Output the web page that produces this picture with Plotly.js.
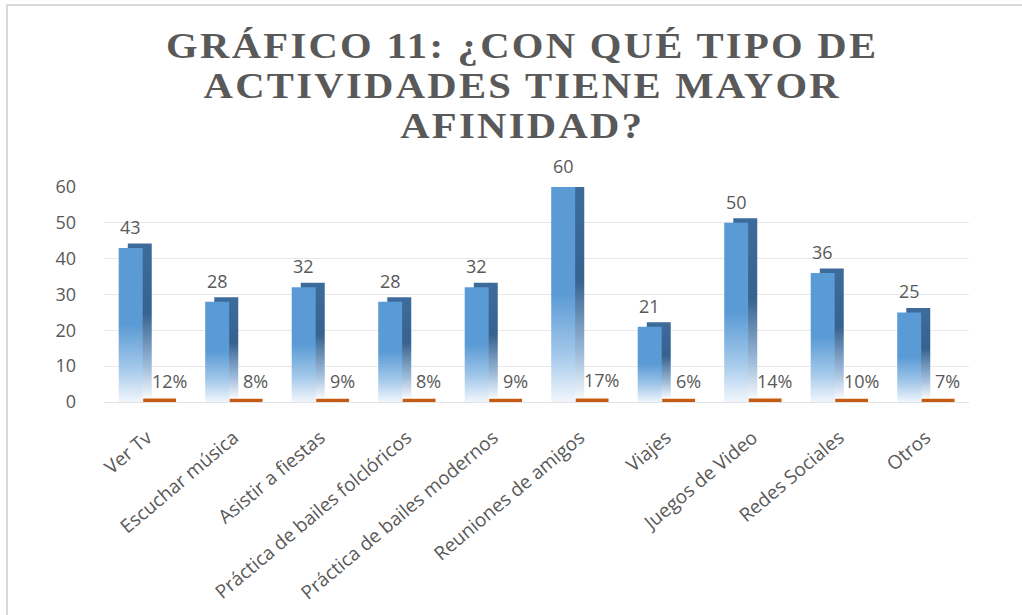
<!DOCTYPE html>
<html><head><meta charset="utf-8">
<script src="https://cdn.plot.ly/plotly-3.0.1.min.js"></script>
<style>
html,body{margin:0;padding:0;background:#fff;}
#chart{width:1022px;height:615px;}
#frame{position:absolute;left:6px;top:4px;width:1016px;height:611px;border-left:2px solid #d9d9d9;border-top:2px solid #d9d9d9;pointer-events:none;}
</style></head><body>
<div id="chart"></div><div id="frame"></div>
<script>
const categories = ["Ver Tv","Escuchar música","Asistir a fiestas","Práctica de bailes folclóricos","Práctica de bailes modernos","Reuniones de amigos","Viajes","Juegos de Video","Redes Sociales","Otros"];
const counts = [43,28,32,28,32,60,21,50,36,25];
const shares = [0.12,0.08,0.09,0.08,0.09,0.17,0.06,0.14,0.10,0.07];
const yTicks = [0,10,20,30,40,50,60];
const titleLines = ["GRÁFICO 11: ¿CON QUÉ TIPO DE","ACTIVIDADES TIENE MAYOR","AFINIDAD?"];

const txtColor = '#595959';
const font = 'Open Sans, sans-serif';

const sideTrace = {type:'bar', x:categories, y:counts, base:1.25, offset:-0.225, width:0.277,
  marker:{color:'#3a6898', line:{width:0}}, hoverinfo:'skip', showlegend:false};
const frontTrace = {type:'bar', x:categories, y:counts, offset:-0.33, width:0.277,
  marker:{color:'#5b9bd5', line:{width:0}}, hoverinfo:'skip', showlegend:false};
const shareTrace = {type:'bar', x:categories, y:shares, offset:-0.012, width:0.31, cliponaxis:false,
  marker:{color:'#c55a11', line:{width:6, color:'#c55a11'}}, hoverinfo:'skip', showlegend:false};

const annotations = [];
categories.forEach((c,i)=>{
  annotations.push({x:c, y:counts[i], xref:'x', yref:'y', text:String(counts[i]), showarrow:false,
    xshift:-16.5, yshift:21, yanchor:'middle', font:{family:font, size:18, color:txtColor}});
  annotations.push({x:c, y:shares[i], xref:'x', yref:'y', text:Math.round(shares[i]*100)+'%', showarrow:false,
    xshift:22, yshift:21, yanchor:'middle', font:{family:font, size:18, color:txtColor}});
});

const layout = {
  width:1022, height:615,
  margin:{l:104, r:53, t:187, b:213},
  paper_bgcolor:'#ffffff', plot_bgcolor:'#ffffff',
  barmode:'overlay',
  showlegend:false,
  hovermode:false,
  title:{text: titleLines.map(t=>'<span style="letter-spacing:2px">'+t+'</span>').join('<br>'),
    x:0.511, xref:'container', xanchor:'center', y:0.95, yref:'container', yanchor:'top',
    font:{family:'Liberation Serif, Times New Roman, serif', size:36, color:txtColor, weight:'bold'}},
  xaxis:{type:'category', tickangle:-40, ticks:'', showgrid:false, showline:false, zeroline:false,
    tickfont:{family:font, size:19, color:txtColor}, ticklabelstandoff:20, automargin:false},
  yaxis:{range:[0,60], tickvals:yTicks, ticks:'', showline:false, zeroline:true, zerolinecolor:'#e3e3e3', zerolinewidth:1,
    gridcolor:'#e8e8e8', gridwidth:1, tickfont:{family:font, size:18, color:txtColor}, ticklabelstandoff:27, automargin:false},
  annotations:annotations
};

Plotly.newPlot('chart',[sideTrace, frontTrace, shareTrace], layout, {displayModeBar:false, staticPlot:true}).then(gd=>{
  const NS='http://www.w3.org/2000/svg';
  const svg = gd.querySelector('svg.main-svg');
  let defs = svg.querySelector('defs');
  if(!defs){defs=document.createElementNS(NS,'defs'); svg.insertBefore(defs, svg.firstChild);}
  function grad(id, stops){
    const g=document.createElementNS(NS,'linearGradient');
    g.setAttribute('id',id); g.setAttribute('x1','0'); g.setAttribute('y1','0'); g.setAttribute('x2','0'); g.setAttribute('y2','1');
    stops.forEach(([o,c])=>{const s=document.createElementNS(NS,'stop'); s.setAttribute('offset',o); s.setAttribute('stop-color',c); g.appendChild(s);});
    defs.appendChild(g);
  }
  grad('gFront',[['0','#5b9bd5'],['0.5','#5b9bd5'],['0.78','#a3c8ea'],['1','#f1f6fc']]);
  grad('gSide',[['0','#3d6c9c'],['0.45','#36628f'],['0.8','#9fbcdb'],['1','#f3f7fb']]);
  const traces = gd.querySelectorAll('.barlayer .trace.bars');
  if(traces[0]) traces[0].querySelectorAll('path').forEach(p=>{p.style.fill='url(#gSide)';});
  if(traces[1]) traces[1].querySelectorAll('path').forEach(p=>{p.style.fill='url(#gFront)';});
  // place the three title lines on the reference's tight 40px line pitch, widened like the original
  const tEl = gd.querySelector('.g-gtitle text.gtitle');
  if(tEl){
    const cx = parseFloat(tEl.getAttribute('x'));
    tEl.setAttribute('y', 58);
    tEl.querySelectorAll('tspan.line').forEach((l,i)=>{ l.setAttribute('y', 58 + i*40); l.setAttribute('dy','0'); });
    tEl.setAttribute('transform', 'translate('+cx+',0) scale(1.13,1) translate('+(-cx)+',0)');
  }
});
</script>
</body></html>
